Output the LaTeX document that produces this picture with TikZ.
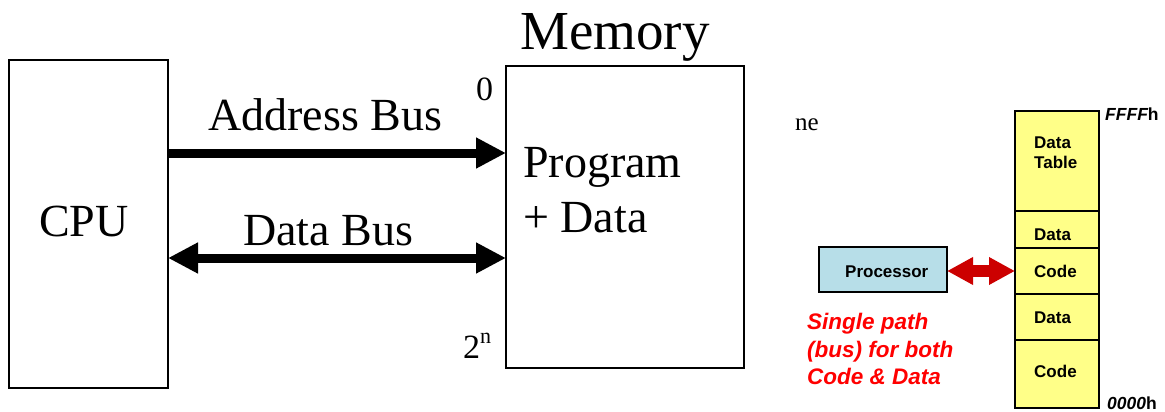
\documentclass[tikz,border=0pt]{standalone}
\usepackage{fontspec}
\setmainfont{Liberation Serif}
\newfontfamily\arialfont{Liberation Sans}
\usetikzlibrary{arrows.meta}
\definecolor{memyellow}{RGB}{255,255,136}
\definecolor{procblue}{RGB}{183,222,232}
\definecolor{busred}{RGB}{204,0,0}
\definecolor{notered}{RGB}{255,0,0}
\tikzset{
  bigbox/.style={draw=black, line width=2pt, inner sep=0pt, outer sep=0pt, anchor=north west},
  serifbig/.style={font=\fontsize{46}{55}\selectfont, inner sep=0pt, anchor=base west},
  serifsmall/.style={font=\fontsize{34}{40}\selectfont, inner sep=0pt, anchor=base west},
  bus/.style={line width=9pt, draw=black},
  buspointer/.tip={Triangle[length=30pt, width=29pt]},
  redpointer/.tip={Triangle[length=26pt, width=26pt]},
  segbox/.style={draw=black, line width=1.1pt, fill=memyellow, minimum width=84pt, inner sep=0pt, outer sep=0pt, anchor=north west},
  seglabel/.style={font=\arialfont\bfseries\fontsize{17}{20}\selectfont, inner sep=0pt, anchor=base west},
  addrlabel/.style={font=\arialfont\bfseries\fontsize{17.5}{20}\selectfont, inner sep=0pt, anchor=base west},
  notelabel/.style={font=\arialfont\bfseries\itshape\fontsize{22.5}{27.5}\selectfont, text=notered, inner sep=0pt, anchor=base west},
}
\begin{document}
\begin{tikzpicture}[x=1pt, y=-1pt]
\useasboundingbox[fill=white] (0,0) rectangle (1165,412);

% ---- CPU / memory with separate address and data buses ----
\node[bigbox, minimum width=159pt, minimum height=328pt] (cpu) at (9,60) {};
\node[bigbox, minimum width=238pt, minimum height=302pt] (mem) at (506,66) {};

\node[font=\fontsize{55}{66}\selectfont, inner sep=0pt, anchor=base west] (memtitle) at (520,50) {Memory};
\node[serifbig] (cpulabel) at (39,236) {CPU};
\node[serifbig] (prog) at (523,177) {Program};
\node[serifbig] (progdata) at (523,232) {+ Data};
\node[serifsmall] (addrlow) at (476,100) {0};
\node[serifsmall] (addrhigh) at (463,358) {2\raisebox{0.42em}{\fontsize{22}{22}\selectfont n}};

\coordinate (ab) at (0,153);
\coordinate (db) at (0,258);
\draw[bus, -buspointer] (cpu.east |- ab) -- (mem.west |- ab);
\draw[bus, buspointer-buspointer] (cpu.east |- db) -- (mem.west |- db);
\node[serifbig] (ablabel) at (208,130) {Address Bus};
\node[serifbig] (dblabel) at (243,245) {Data Bus};

% ---- single shared bus to a segmented memory ----
\node[font=\fontsize{25}{30}\selectfont, inner sep=0pt, anchor=base west] (frag) at (795,130) {ne};

\node[segbox, minimum height=100pt] (s1) at (1015,111) {};
\node[segbox, minimum height=37pt] (s2) at (1015,211) {};
\node[segbox, minimum height=46pt] (s3) at (1015,248) {};
\node[segbox, minimum height=46pt] (s4) at (1015,294) {};
\node[segbox, minimum height=68pt] (s5) at (1015,340) {};

\node[seglabel] at (1034,148) {Data};
\node[seglabel] at (1034,168) {Table};
\node[seglabel] at (1034,240) {Data};
\node[seglabel] at (1034,277) {Code};
\node[seglabel] at (1034,323) {Data};
\node[seglabel] at (1034,377) {Code};

\node[addrlabel] (top) at (1105,121) {\itshape FFFF\upshape h};
\node[addrlabel] (bottom) at (1107,409) {\itshape 0000\upshape h};

\node[draw=black, line width=1.1pt, fill=procblue, minimum width=128pt, minimum height=45pt,
      inner sep=0pt, outer sep=0pt, anchor=north west] (proc) at (819,247) {};
\node[seglabel] at (845,277) {Processor};

\draw[line width=12pt, busred, redpointer-redpointer]
  (proc.east |- s3.west) -- (s3.west);

\node[notelabel] (note1) at (807,329) {Single path};
\node[notelabel] (note2) at (807,357) {(bus) for both};
\node[notelabel] (note3) at (807,384) {Code \& Data};
\end{tikzpicture}
\end{document}
